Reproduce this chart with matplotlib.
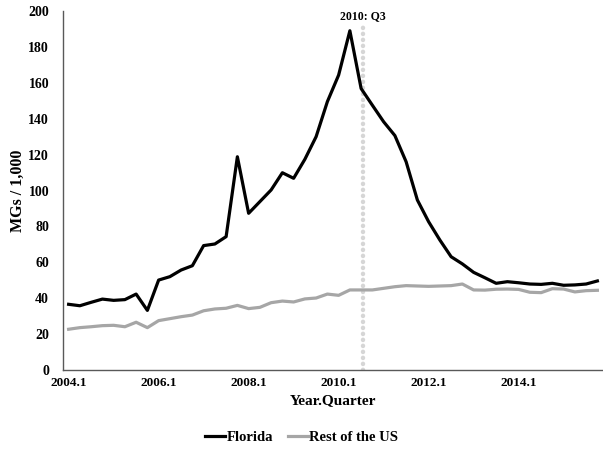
import numpy as np
import matplotlib.pyplot as plt

plt.rcParams["font.family"] = ["Liberation Serif", "DejaVu Serif"]
plt.rcParams["font.weight"] = "bold"

# quarterly values, 2004.1 .. 2015.4 (MGs / 1,000)
florida = [36.6, 35.8, 37.7, 39.5, 38.8, 39.2, 42.3, 33.2,
           50.1, 52.0, 55.7, 58.1, 69.3, 70.2, 74.3, 118.8,
           87.3, 93.8, 100.3, 109.9, 106.8, 117.4, 130.0, 149.5,
           164.3, 189.0, 156.8, 147.5, 138.3, 130.6, 116.0, 94.7,
           82.6, 72.4, 63.1, 59.1, 54.4, 51.4, 48.3, 49.2,
           48.6, 47.9, 47.7, 48.3, 47.2, 47.4, 47.9, 49.6]
rest_us = [22.7, 23.6, 24.1, 24.7, 24.9, 24.1, 26.6, 23.6,
           27.5, 28.6, 29.7, 30.6, 33.0, 34.0, 34.4, 36.0,
           34.2, 34.9, 37.5, 38.4, 37.9, 39.6, 40.1, 42.3,
           41.6, 44.6, 44.6, 44.6, 45.5, 46.4, 47.0, 46.8,
           46.6, 46.8, 47.0, 47.9, 44.6, 44.5, 45.0, 45.1,
           44.9, 43.3, 43.1, 45.3, 45.1, 43.5, 44.2, 44.4]
tick_labels = ["2004.1", "2006.1", "2008.1", "2010.1", "2012.1", "2014.1"]
event_label = "2010: Q3"
event_idx = 26

x = np.arange(len(florida))

fig = plt.figure(figsize=(6.03, 4.54), dpi=100)
ax = fig.add_axes([63 / 603, 84 / 454, 540 / 603, 359 / 454])

ax.plot(x, florida, color="black", lw=2.3, label="Florida", zorder=3)
ax.plot(x, rest_us, color="#a6a6a6", lw=2.3, label="Rest of the US", zorder=2)

# marker for 2010 Q3
ax.plot([event_idx + 0.2, event_idx + 0.2], [0, 192], color="#d6d6d6", lw=3.2,
        linestyle=(0, (0.05, 1.3)), dash_capstyle="round", zorder=1)
ax.text(event_idx + 0.2, 194, event_label, ha="center", va="bottom",
        fontsize=8.5, fontweight="bold")

ax.set_xlim(-0.5, len(florida) - 0.5)
ax.set_ylim(0, 200)
ax.set_yticks(np.arange(0, 201, 20))
ax.set_xticks(np.arange(0, len(florida), 8))
ax.set_xticklabels(tick_labels)
ax.tick_params(axis="x", length=0, labelsize=9.5, pad=5)
ax.tick_params(axis="y", length=0, labelsize=10, pad=10)
for lbl in ax.get_xticklabels() + ax.get_yticklabels():
    lbl.set_fontweight("bold")

for s in ["top", "right"]:
    ax.spines[s].set_visible(False)
for s in ["left", "bottom"]:
    ax.spines[s].set_color("#595959")
    ax.spines[s].set_linewidth(1.0)

ax.set_xlabel("Year.Quarter", fontsize=11, fontweight="bold", labelpad=4)
ax.set_ylabel("MGs / 1,000", fontsize=11.5, fontweight="bold", labelpad=2)

fig.legend(loc="center", bbox_to_anchor=(0.5, 1 - 437 / 454), ncol=2,
           frameon=False, fontsize=10.5, handlelength=1.4, handletextpad=0.1,
           columnspacing=1.0)

fig.savefig("out.png", dpi=100)
